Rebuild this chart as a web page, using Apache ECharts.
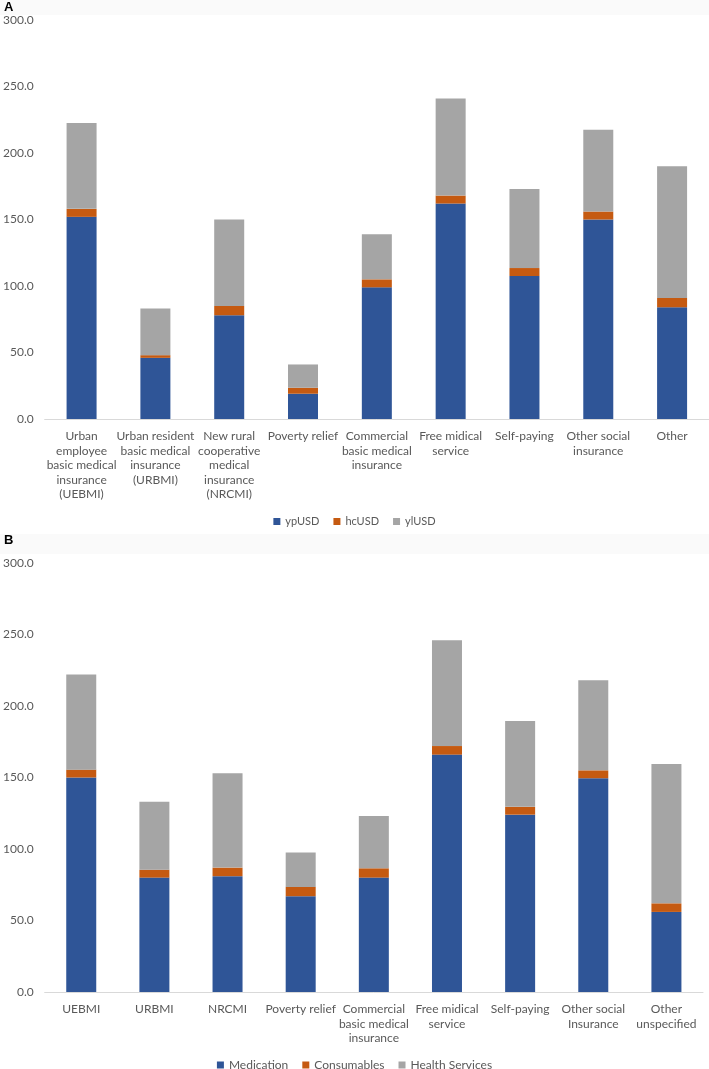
<!DOCTYPE html>
<html><head><meta charset="utf-8">
<script src="https://cdn.jsdelivr.net/npm/echarts@6/dist/echarts.min.js"></script>
<style>html,body{margin:0;padding:0;background:#fff}#c{width:709px;height:1069px}</style>
</head><body><div id="c"></div>
<script>
const categoriesA = ["Urban\nemployee\nbasic medical\ninsurance\n(UEBMI)","Urban resident\nbasic medical\ninsurance\n(URBMI)","New rural\ncooperative\nmedical\ninsurance\n(NRCMI)","Poverty relief","Commercial\nbasic medical\ninsurance","Free midical\nservice","Self-paying","Other social\ninsurance","Other"];
const ypUSD = [152, 46, 78, 19, 99, 162, 107.5, 150, 84];
const hcUSD = [6, 2, 7, 4.5, 6, 6, 6, 6, 7];
const ylUSD = [64.5, 35, 65, 17.5, 34, 73, 59.5, 61.5, 99];

const categoriesB = ["UEBMI","URBMI","NRCMI","Poverty relief","Commercial\nbasic medical\ninsurance","Free midical\nservice","Self-paying","Other social\nInsurance","Other\nunspecified"];
const medication = [150, 80, 81, 67, 80, 166, 124, 149.5, 56];
const consumables = [5.5, 5.5, 6, 6.5, 6.5, 6, 5.5, 5.5, 6];
const healthServices = [66.5, 47.5, 66, 24, 36.5, 74, 60, 63, 97.5];

const yTicks = [0, 50, 100, 150, 200, 250, 300];

const C1 = '#2F5597', C2 = '#C55A11', C3 = '#A5A5A5';
const FONT = 'Lato';
const chart = echarts.init(document.getElementById('c'), null, {renderer:'canvas'});
function xAxis(gi, cats){
  return {type:'category', gridIndex:gi, data:cats,
    axisLine:{lineStyle:{color:'#D9D9D9', width:1}}, axisTick:{show:false},
    axisLabel:{color:'#595959', fontFamily:FONT, fontSize:12, lineHeight:14.5, margin:10, interval:0}};
}
function yAxis(gi){
  return {type:'value', gridIndex:gi, min:yTicks[0], max:yTicks[yTicks.length-1], interval:50,
    axisLine:{show:false}, axisTick:{show:false}, splitLine:{show:false},
    axisLabel:{color:'#595959', fontFamily:FONT, fontSize:12, margin:11, formatter:v=>v.toFixed(1)}};
}
function bar(name, data, color, xi, stack){
  return {name, type:'bar', stack, xAxisIndex:xi, yAxisIndex:xi, data, barWidth:30,
    itemStyle:{color}, emphasis:{disabled:true}};
}
chart.setOption({
  animation:false,
  textStyle:{fontFamily:FONT},
  graphic:[
    {type:'rect', shape:{x:0,y:0,width:709,height:15}, style:{fill:'#FAFAFA'}, z:-10},
    {type:'rect', shape:{x:0,y:534,width:709,height:20}, style:{fill:'#FAFAFA'}, z:-10},
    {type:'text', left:4, top:1, style:{text:'A', font:'bold 13px Liberation Sans', fill:'#000'}},
    {type:'text', left:4, top:534, style:{text:'B', font:'bold 13px Liberation Sans', fill:'#000'}}
  ],
  grid:[
    {left:43, right:0, top:20, height:399},
    {left:38, right:6, top:563, height:429}
  ],
  xAxis:[xAxis(0, categoriesA), xAxis(1, categoriesB)],
  yAxis:[yAxis(0), yAxis(1)],
  legend:[
    {data:['ypUSD','hcUSD','ylUSD'], top:511, left:'center', itemWidth:7, itemHeight:7, itemGap:14, icon:'rect',
     textStyle:{color:'#595959', fontFamily:FONT, fontSize:11}},
    {data:['Medication','Consumables','Health Services'], top:1054, left:'center', itemWidth:7, itemHeight:7, itemGap:14, icon:'rect',
     textStyle:{color:'#595959', fontFamily:FONT, fontSize:12}}
  ],
  series:[
    bar('ypUSD', ypUSD, C1, 0, 'a'),
    bar('hcUSD', hcUSD, C2, 0, 'a'),
    bar('ylUSD', ylUSD, C3, 0, 'a'),
    bar('Medication', medication, C1, 1, 'b'),
    bar('Consumables', consumables, C2, 1, 'b'),
    bar('Health Services', healthServices, C3, 1, 'b')
  ]
});
</script></body></html>
